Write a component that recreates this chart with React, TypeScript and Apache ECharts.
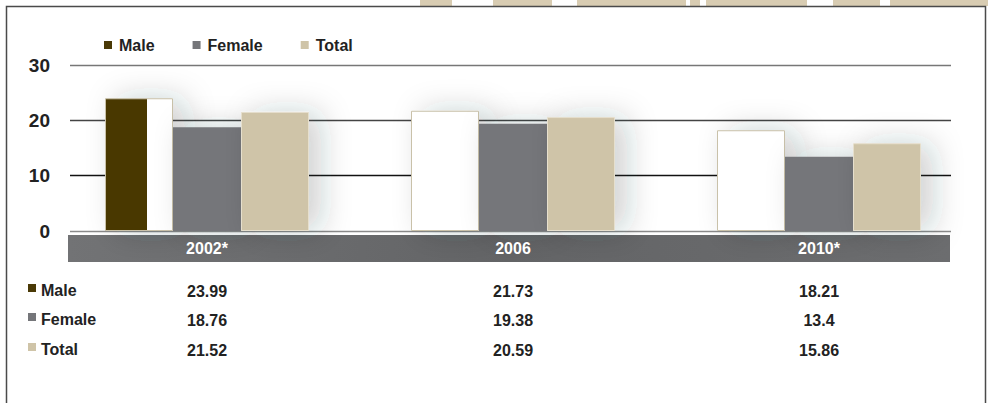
import React, { useEffect, useRef } from "react";
import * as echarts from "echarts";

const categories = ["2002*", "2006", "2010*"];
const seriesNames = ["Male", "Female", "Total"];
const maleValues = [23.99, 21.73, 18.21];
const femaleValues = [18.76, 19.38, 13.4];
const totalValues = [21.52, 20.59, 15.86];
const yMin = 0;
const yMax = 30;
const yInterval = 10;

const DARK = "#4a3906";
const GRAY = "#75767a";
const BEIGE = "#cfc4a8";
const FONT = "'Liberation Sans', Arial, sans-serif";

export default function App() {
  const ref = useRef<HTMLDivElement>(null);

  useEffect(() => {
    if (!ref.current) return;
    const chart = echarts.init(ref.current, undefined, { renderer: "svg" });

    const shadow = {
      shadowColor: "rgba(40,45,55,0.22)",
      shadowBlur: 30,
      shadowOffsetX: 12,
      shadowOffsetY: 0,
    };

    const maleData = maleValues.map((v, i) =>
      i === 0
        ? {
            value: v,
            itemStyle: {
              color: new echarts.graphic.LinearGradient(0, 0, 1, 0, [
                { offset: 0, color: DARK },
                { offset: 0.62, color: DARK },
                { offset: 0.62, color: "#ffffff" },
                { offset: 1, color: "#ffffff" },
              ]),
            },
          }
        : v
    );

    const option: any = {
      animation: false,
      backgroundColor: "#ffffff",
      textStyle: { fontFamily: FONT },
      legend: {
        left: 104,
        top: 37,
        padding: 0,
        itemWidth: 8,
        itemHeight: 8,
        itemGap: 38,
        icon: "rect",
        selectedMode: false,
        textStyle: {
          fontFamily: FONT,
          fontWeight: "bold",
          fontSize: 16,
          color: "#222",
          padding: [0, 0, 0, 2],
        },
        data: [
          { name: "Male", itemStyle: { color: DARK, borderWidth: 0, shadowBlur: 0 } },
          { name: "Female", itemStyle: { color: GRAY, borderWidth: 0, shadowBlur: 0 } },
          { name: "Total", itemStyle: { color: BEIGE, borderWidth: 0, shadowBlur: 0 } },
        ],
      },
      grid: [
        { left: 54, width: 918, top: 65, bottom: 172 },
        { left: 70, width: 881, top: 65, bottom: 172 },
      ],
      xAxis: [
        {
          type: "category",
          gridIndex: 0,
          data: categories,
          z: 10,
          axisLine: { show: false },
          axisTick: { show: false },
          axisLabel: {
            margin: 9,
            color: "#ffffff",
            fontFamily: FONT,
            fontWeight: "bold",
            fontSize: 16,
          },
        },
        {
          type: "category",
          gridIndex: 1,
          data: categories,
          show: false,
        },
      ],
      yAxis: [
        {
          type: "value",
          gridIndex: 0,
          min: yMin,
          max: yMax,
          interval: yInterval,
          show: false,
          splitLine: { show: false },
        },
        {
          type: "value",
          gridIndex: 1,
          min: yMin,
          max: yMax,
          interval: yInterval,
          axisLine: { show: false },
          axisTick: { show: false },
          axisLabel: {
            margin: 20,
            color: "#222",
            fontFamily: FONT,
            fontWeight: "bold",
            fontSize: 19,
          },
          splitLine: {
            show: true,
            lineStyle: {
              color: ["#8a8a8a", "#111111", "#444444", "#777777"],
              width: 1.3,
            },
          },
        },
      ],
      series: [
        {
          name: "Male",
          type: "bar",
          xAxisIndex: 0,
          yAxisIndex: 0,
          barWidth: 68,
          barGap: "0%",
          data: maleData,
          itemStyle: {
            color: "#ffffff",
            borderColor: "#c9c1a9",
            borderWidth: 1,
            ...shadow,
          },
        },
        {
          name: "Female",
          type: "bar",
          xAxisIndex: 0,
          yAxisIndex: 0,
          barWidth: 68,
          barGap: "0%",
          data: femaleValues,
          itemStyle: { color: GRAY, ...shadow },
        },
        {
          name: "Total",
          type: "bar",
          xAxisIndex: 0,
          yAxisIndex: 0,
          barWidth: 68,
          barGap: "0%",
          data: totalValues,
          itemStyle: {
            color: BEIGE,
            borderColor: "#e6dfcd",
            borderWidth: 1,
            ...shadow,
          },
        },
      ],
    };

    chart.setOption(option);

    const xs = categories.map((_, i) =>
      chart.convertToPixel({ xAxisIndex: 0 }, i) as number
    );
    const rows = [
      { name: seriesNames[0], color: DARK, values: maleValues, y: 290 },
      { name: seriesNames[1], color: GRAY, values: femaleValues, y: 319 },
      { name: seriesNames[2], color: BEIGE, values: totalValues, y: 349 },
    ];

    const graphics: any[] = [];
    const strips = [
      [420, 452],
      [493, 552],
      [577, 686],
      [690, 700],
      [706, 807],
      [833, 880],
      [890, 988],
    ];
    strips.forEach(([a, b]) =>
      graphics.push({
        type: "rect",
        shape: { x: a, y: 0, width: b - a, height: 6 },
        style: { fill: "#d8ccb2" },
        z: -5,
      })
    );
    graphics.push({
      type: "polyline",
      shape: {
        points: [
          [6.5, 410],
          [6.5, 6.5],
          [985.5, 6.5],
          [985.5, 410],
        ],
      },
      style: { stroke: "#4a4a4a", lineWidth: 1.5, fill: null },
      z: 20,
    });
    graphics.push({
      type: "rect",
      shape: { x: 68, y: 235, width: 882, height: 27 },
      style: {
        fill: new echarts.graphic.LinearGradient(0, 0, 1, 0, [
          { offset: 0, color: "#727375" },
          { offset: 0.5, color: "#636466" },
          { offset: 1, color: "#6c6d6f" },
        ]),
      },
      z: -1,
    });
    rows.forEach((r) => {
      graphics.push({
        type: "rect",
        shape: { x: 28, y: r.y - 6, width: 8, height: 8 },
        style: { fill: r.color },
        z: 5,
      });
      graphics.push({
        type: "text",
        x: 41,
        y: r.y,
        style: {
          text: r.name,
          fill: "#222",
          font: `bold 16px ${FONT}`,
          textVerticalAlign: "middle",
          verticalAlign: "middle",
        },
        z: 5,
      });
      r.values.forEach((v, i) => {
        graphics.push({
          type: "text",
          x: xs[i],
          y: r.y + 1,
          style: {
            text: String(v),
            fill: "#222",
            font: `bold 16px ${FONT}`,
            align: "center",
            textAlign: "center",
            verticalAlign: "middle",
            textVerticalAlign: "middle",
          },
          z: 5,
        });
      });
    });

    chart.setOption({ graphic: graphics });

    return () => chart.dispose();
  }, []);

  return (
    <div
      ref={ref}
      style={{ position: "absolute", left: 0, top: 0, width: 988, height: 403 }}
    />
  );
}
